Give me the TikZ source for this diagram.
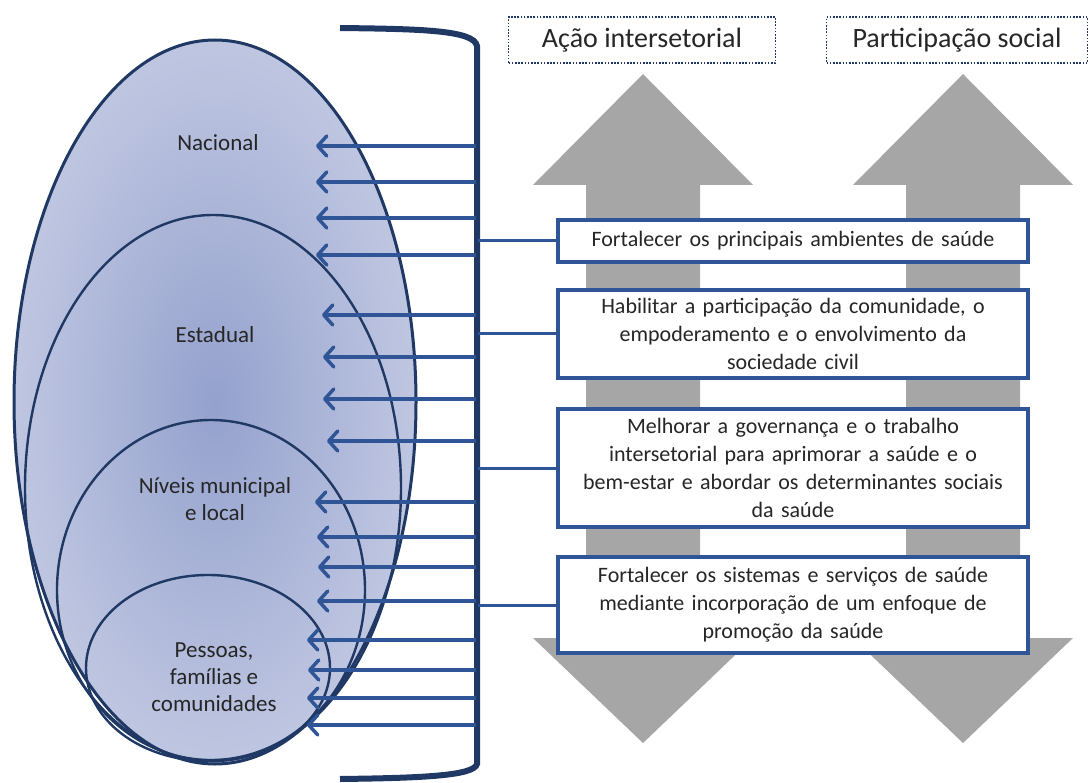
\documentclass[tikz,border=0pt]{standalone}
\usepackage{fontspec}
\setmainfont{Carlito}
\usetikzlibrary{arrows.meta}

\definecolor{navy}{RGB}{31,56,100}
\definecolor{steel}{RGB}{47,85,151}
\definecolor{eggin}{RGB}{148,161,205}
\definecolor{eggmid}{RGB}{186,194,223}
\definecolor{eggout}{RGB}{224,228,240}
\pgfdeclareradialshading{egg}{\pgfpoint{0bp}{0bp}}{color(0bp)=(eggin); color(22bp)=(eggmid); color(50bp)=(eggout)}

\begin{document}
\begin{tikzpicture}[x=1pt, y=-1pt,
    level/.style={text=black!85, align=center, font=\fontsize{23}{27}\selectfont},
    ring/.style={draw=navy, line width=2.4pt},
    lvlarrow/.style={draw=steel, line width=3.5pt,
      -{Straight Barb[length=9pt, width=20pt, round]}},
    branch/.style={draw=steel, line width=3pt},
    goalbox/.style={draw=steel, line width=3.5pt, fill=white, text=black!85,
      minimum width=470pt, text width=455pt, align=center, inner sep=0pt,
      font=\fontsize{22}{28}\selectfont},
    titlebox/.style={draw=navy, line width=1.6pt, dash pattern=on 1.6pt off 1.6pt,
      text=black!85, inner sep=0pt, minimum height=46pt,
      font=\fontsize{28}{34}\selectfont},
    bigarrow/.style={fill=black!35, draw=none}]
  \useasboundingbox (0,0) rectangle (1089,783);

  % Nested levels
  \shade[shading=egg] (215,402) ellipse [x radius=201pt, y radius=362pt];
  \draw[ring, line width=3pt] (215,402) ellipse [x radius=201pt, y radius=362pt];
  \draw[ring] (213,488) ellipse [x radius=188pt, y radius=273pt];
  \draw[ring] (211,590) ellipse [x radius=154pt, y radius=170pt];
  \draw[ring] (208,668) ellipse [x radius=122pt, y radius=93pt];

  \node[level] (nac) at (218,143) {Nacional};
  \node[level] (est) at (215,335) {Estadual};
  \node[level] (mun) at (215,499) {Níveis municipal\\e local};
  \node[level] (pes) at (214,677) {Pessoas,\\famílias e\\comunidades};

  % Gray double arrows
  \foreach \cx in {643,963}
    \fill[bigarrow] (\cx,74) -- (\cx+110,185) -- (\cx+57,185) -- (\cx+57,638)
      -- (\cx+110,638) -- (\cx,743) -- (\cx-110,638) -- (\cx-57,638)
      -- (\cx-57,185) -- (\cx-110,185) -- cycle;

  \node[titlebox, minimum width=267pt] (acao) at (642,40) {Ação intersetorial};
  \node[titlebox, minimum width=261pt] (part) at (957,40) {Participação social};

  % Bracket
  \draw[navy, line width=6pt] (340,28) .. controls (420,29) and (474,30) .. (477,46)
    -- (477,764) .. controls (474,776) and (420,778) .. (340,779);

  % Arrows into the levels
  \foreach \yy/\tx [count=\i] in {146/316,182/316,218/316,255/316,
      315/322,357/323,399/323,441/327,502/315,537/317,567/318,601/317,
      640/307,670/308,698/307,725/307} {
    \coordinate (s\i) at (476,\yy);
    \coordinate (t\i) at (\tx,\yy);
    \draw[lvlarrow] (s\i) -- (t\i);
  }

  % Action areas
  \node[goalbox, minimum height=42pt] (g1) at (793,241)
    {Fortalecer os principais ambientes de saúde};
  \node[goalbox, minimum height=88pt] (g2) at (793,334)
    {Habilitar a participação da comunidade, o\\empoderamento e o envolvimento da\\sociedade civil};
  \node[goalbox, minimum height=118pt] (g3) at (793,468)
    {Melhorar a governança e o trabalho\\intersetorial para aprimorar a saúde e o\\bem-estar e abordar os determinantes sociais\\da saúde};
  \node[goalbox, minimum height=96pt] (g4) at (793,605)
    {Fortalecer os sistemas e serviços de saúde\\mediante incorporação de um enfoque de\\promoção da saúde};

  \foreach \g/\yy in {g1/241,g2/334,g3/468,g4/605} {
    \coordinate (b\g) at (478,\yy);
    \draw[branch] (b\g) -- (\g.west);
  }
\end{tikzpicture}
\end{document}
